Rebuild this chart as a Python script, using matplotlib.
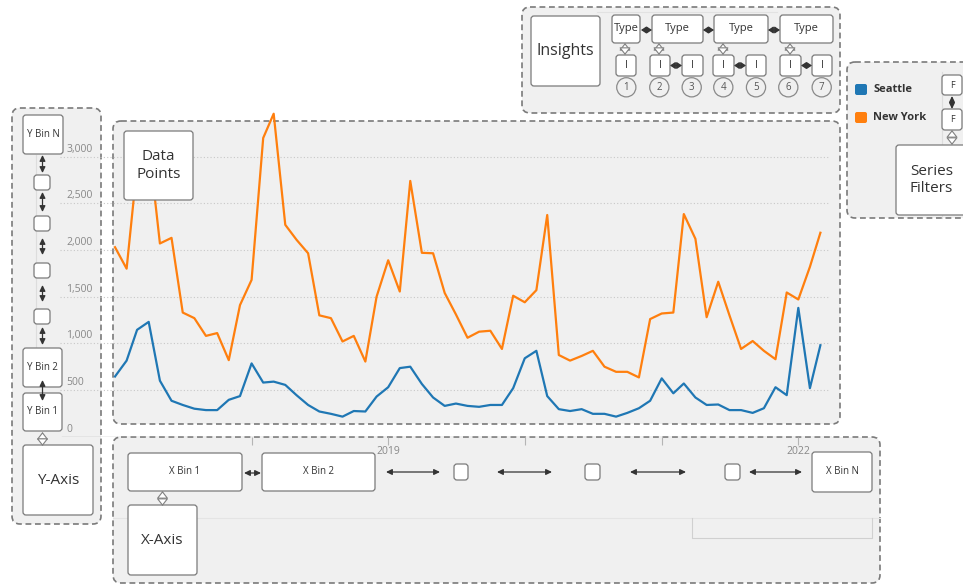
import datetime as dt
import matplotlib
matplotlib.use('Agg')
import matplotlib.pyplot as plt
import matplotlib.dates as mdates
from matplotlib.patches import FancyBboxPatch, FancyArrowPatch, Circle, ArrowStyle
from matplotlib.transforms import offset_copy
import pandas as pd

plt.rcParams['font.family'] = ['Open Sans', 'DejaVu Sans']

W, H = 963, 585

# monthly values, Jan 2017 .. Mar 2022
months = pd.date_range('2017-01-01', '2022-03-01', freq='MS')
seattle = [645, 815, 1145, 1230, 600, 385, 340, 300, 285, 285, 395, 435,
           785, 580, 590, 555, 445, 340, 270, 245, 215, 275, 270, 430,
           530, 735, 750, 565, 420, 330, 355, 330, 320, 340, 340, 520,
           840, 920, 435, 295, 275, 295, 245, 245, 215, 255, 305, 385,
           625, 465, 570, 420, 340, 345, 285, 285, 255, 305, 530, 445,
           1380, 520, 980]
new_york = [2030, 1800, 2900, 3150, 2070, 2130, 1330, 1270, 1080, 1110, 820, 1410,
            1680, 3200, 3460, 2270, 2110, 1965, 1300, 1270, 1020, 1080, 805, 1500,
            1890, 1555, 2740, 1970, 1965, 1540, 1310, 1060, 1125, 1135, 940, 1510,
            1440, 1570, 2375, 875, 815, 865, 920, 750, 695, 695, 635, 1260,
            1320, 1330, 2385, 2120, 1280, 1660, 1300, 940, 1025, 920, 830, 1545,
            1470, 1820, 2185]
y_ticks = [0, 500, 1000, 1500, 2000, 2500, 3000]
year_ticks = ['2018-01-01', '2019-01-01', '2020-01-01', '2021-01-01', '2022-01-01']
year_labels = ['', '2019', '', '', '2022']

BLUE = '#1f77b4'
ORANGE = '#ff7f0e'

fig = plt.figure(figsize=(W / 100, H / 100), dpi=100)

# background layer: dashed regions
bg = fig.add_axes([0, 0, 1, 1])
bg.set_xlim(0, W)
bg.set_ylim(H, 0)
bg.axis('off')
bg.set_zorder(0)


def region(x0, y0, x1, y1):
    bg.add_patch(FancyBboxPatch((x0, y0), x1 - x0, y1 - y0,
                                boxstyle='round,pad=0,rounding_size=8',
                                fc='#f0f0f0', ec='#7a7a7a', lw=1.2, ls=(0, (3.5, 2.2))))


region(12, 108, 101, 524)
region(113, 121, 840, 424)
region(113, 437, 880, 583)
region(522, 7, 840, 113)
region(847, 62, 985, 218)

# faint guide lines
bg.plot([36, 36], [155, 348], color='#dddddd', lw=0.8)
bg.plot([942, 942], [72, 218], color='#dddddd', lw=0.8)
bg.plot([597, 777], [12, 12], color='#e2e2e2', lw=0.8)
bg.plot([113, 880], [518, 518], color='#e4e4e4', lw=0.8)
bg.plot([692, 692, 872, 872], [518, 538, 538, 518], color='#d0d0d0', lw=0.8)

# the chart itself
ax = fig.add_axes([60 / W, 1 - 436.7 / H, 772 / W, 336.7 / H])
ax.set_zorder(1)
ax.patch.set_alpha(0)
for s in ax.spines.values():
    s.set_visible(False)

for v in y_ticks[1:]:
    ax.axhline(v, xmin=0, xmax=770 / 772, color='#c8c8c8', lw=0.8, ls=(0, (1, 2)))
ax.axhline(0, xmin=2 / 772, xmax=1, color='#b5b5b5', lw=1)

ax.plot(months, new_york, color=ORANGE, lw=1.6)
ax.plot(months, seattle, color=BLUE, lw=1.6)

ax.set_xlim(mdates.date2num(dt.date(2016, 8, 7)), mdates.date2num(dt.date(2022, 4, 1)))
ax.set_ylim(0, 3607)
ax.set_yticks([])
ax.set_xticks(pd.to_datetime(year_ticks))
ax.set_xticklabels(year_labels)
ax.tick_params(axis='x', length=6, color='#b5b5b5', labelcolor='#888888', labelsize=7.5, pad=1)

tick_tr = offset_copy(ax.get_yaxis_transform(), fig=fig, y=1.5, units='points')
for v in y_ticks:
    ax.text(6 / 772, v, f'{v:,}', transform=tick_tr, ha='left', va='bottom',
            fontsize=7.5, color='#888888')

# overlay layer: boxes and arrows
ov = fig.add_axes([0, 0, 1, 1])
ov.set_xlim(0, W)
ov.set_ylim(H, 0)
ov.axis('off')
ov.set_zorder(2)
ov.patch.set_alpha(0)


def box(x0, y0, x1, y1, label='', size=7, r=3):
    ov.add_patch(FancyBboxPatch((x0, y0), x1 - x0, y1 - y0,
                                boxstyle=f'round,pad=0,rounding_size={r}',
                                fc='white', ec='#7a7a7a', lw=0.9, zorder=3))
    if label:
        ov.text((x0 + x1) / 2, (y0 + y1) / 2, label, ha='center', va='center',
                fontsize=size, color='#333333', linespacing=1.25, zorder=4)


def arrow(x0, y0, x1, y1, hollow=False, hl=0.35, hw=0.17):
    if hollow:
        st = ArrowStyle('<|-|>', head_length=0.45, head_width=0.35)
        p = FancyArrowPatch((x0, y0), (x1, y1), arrowstyle=st, mutation_scale=10,
                            fc='white', ec='#808080', lw=0.8, shrinkA=0, shrinkB=0, zorder=5)
    else:
        st = ArrowStyle('<|-|>', head_length=hl, head_width=hw)
        p = FancyArrowPatch((x0, y0), (x1, y1), arrowstyle=st, mutation_scale=10,
                            fc='#333333', ec='#333333', lw=0.9, shrinkA=0, shrinkB=0, zorder=5)
    ov.add_patch(p)


# Y axis column
box(23, 115, 63, 154, 'Y Bin N', 7)
for y0 in [175, 216, 263, 309]:
    box(34, y0, 50, y0 + 15)
for a, b in [(155, 173), (192, 212), (238, 255), (285, 302), (327, 345)]:
    arrow(42.5, a, 42.5, b)
box(23, 348, 62, 387, 'Y Bin 2', 7)
box(23, 393, 62, 431, 'Y Bin 1', 7)
arrow(42.5, 380, 42.5, 401)
arrow(42.5, 432, 42.5, 446, hollow=True)
box(23, 445, 93, 515, 'Y-Axis', 11)

# plot area
box(124, 131, 193, 200, 'Data\nPoints', 11)

# X axis row
box(128, 453, 242, 491, 'X Bin 1', 7)
arrow(244, 473, 261, 473)
box(262, 453, 375, 491, 'X Bin 2', 7)
arrow(386, 472, 440, 472)
box(454, 464, 468, 480)
arrow(497, 472, 552, 472)
box(585, 464, 600, 480)
arrow(630, 472, 686, 472)
box(725, 464, 740, 480)
arrow(749, 472, 802, 472)
box(812, 452, 872, 492, 'X Bin N', 7)
arrow(162.5, 491, 162.5, 506, hollow=True)
box(128, 505, 197, 575, 'X-Axis', 11)

# insights panel
box(531, 16, 600, 86, 'Insights', 11.5)
for x0, x1 in [(612, 640), (652, 703), (714, 768), (780, 833)]:
    box(x0, 15, x1, 43, 'Type', 8)
for x0, x1 in [(641, 652), (703, 714), (768, 780)]:
    arrow(x0, 30, x1, 30, hl=0.3, hw=0.2)
for x0, x1 in [(616, 636), (650, 670), (682, 703), (713, 734), (746, 766), (780, 801), (812, 832)]:
    box(x0, 55, x1, 76, 'I', 7.5)
for x0, x1 in [(670, 682), (734, 746), (801, 812)]:
    arrow(x0, 65.5, x1, 65.5, hl=0.3, hw=0.2)
for x in [625, 659, 723, 790]:
    arrow(x, 43, x, 55, hollow=True)
for i, cx in enumerate([626.3, 659.3, 691.7, 723.3, 756, 788.3, 821.7]):
    ov.add_patch(Circle((cx, 87.3), 9.6, fc='#f0f0f0', ec='#8a8a8a', lw=0.9, zorder=3))
    ov.text(cx, 87.8, str(i + 1), ha='center', va='center', fontsize=7, color='#555555', zorder=4)

# legend / series filters panel
for y0, col, name in [(84, BLUE, 'Seattle'), (112, ORANGE, 'New York')]:
    ov.add_patch(FancyBboxPatch((855, y0), 12, 11, boxstyle='round,pad=0,rounding_size=2',
                                fc=col, ec='none', zorder=3))
    ov.text(873, y0 + 5.5, name, ha='left', va='center', fontsize=8,
            fontweight='bold', color='#333333', zorder=4)
box(942, 75, 962, 95, 'F', 6.5)
box(942, 109, 962, 130, 'F', 6.5)
arrow(952, 96, 952, 109)
arrow(952, 130, 952, 145, hollow=True)
box(896, 145, 967, 215, 'Series\nFilters', 11)

fig.savefig('out.png', dpi=100)
